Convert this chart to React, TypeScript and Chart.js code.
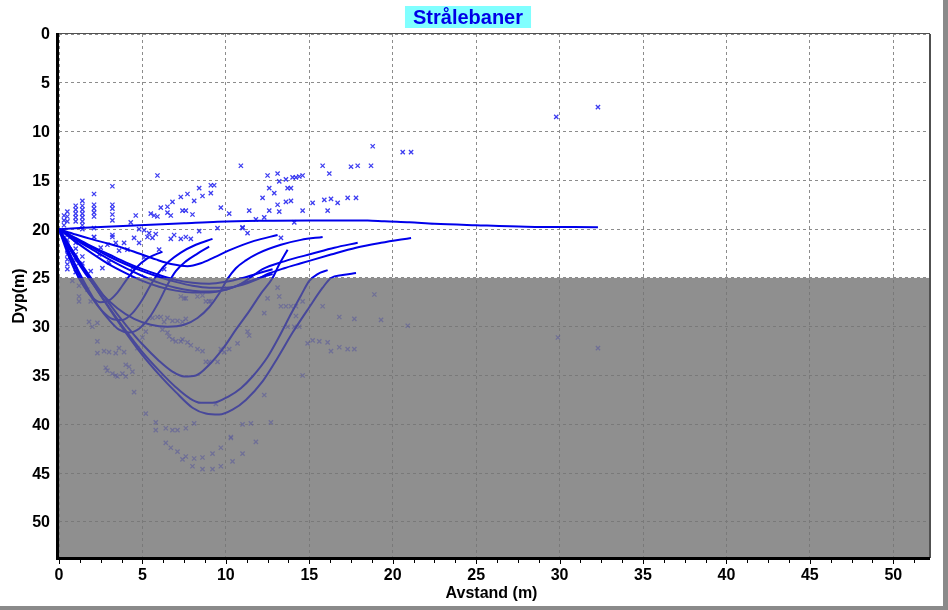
import React, { useEffect, useRef } from 'react';
import { Chart, registerables } from 'chart.js';
Chart.register(...registerables);

const chartTitle = 'Strålebaner';
const xAxisTitle = 'Avstand (m)';
const yAxisTitle = 'Dyp(m)';
const xRange = [0, 52.2];
const yRange = [0, 53.7];
const xTickValues = [0, 5, 10, 15, 20, 25, 30, 35, 40, 45, 50];
const yTickValues = [0, 5, 10, 15, 20, 25, 30, 35, 40, 45, 50];
const minorStep = 1.25;
const bottomLayerDepth = 25;

type P = [number, number];

const rayHorizontal: P[] = [[0,20],[1.5,19.85],[3.5,19.7],[5.5,19.55],[7.5,19.4],[9.5,19.25],[12,19.15],[15,19.1],[18.5,19.1],[19.5,19.2],[21,19.3],[22.5,19.45],[25,19.6],[28,19.75],[32.3,19.8]];
const rayA0: P[] = [[0,20],[0.5,22.4],[1,24.4],[1.5,25.9],[2,27.0],[2.5,27.5],[3,27.3],[3.5,26.5],[4,25.3],[4.6,24.0],[5.3,23.0],[6.2,22.3]];
const rayA1: P[] = [[0,20],[0.5,22.1],[1,24.0],[1.5,25.7],[2,27.1],[2.6,28.4],[3.2,29.2],[3.8,29.3],[4.4,28.6],[5.0,27.2],[5.5,25.7],[6.0,24.4],[6.6,23.3],[7.3,22.4],[8.2,21.6],[9.2,21.0]];
const rayA2: P[] = [[0,20],[0.6,22.3],[1.2,24.4],[1.8,26.3],[2.4,28.0],[3.0,29.3],[3.6,30.3],[4.2,30.6],[4.8,30.2],[5.4,29.1],[6.0,27.4],[6.5,25.7],[7.0,24.3],[7.6,23.3],[8.3,22.5],[9.0,21.8]];
const rayA3: P[] = [[0,20],[0.8,22.5],[1.6,24.6],[2.5,26.5],[3.5,28.1],[4.5,29.2],[5.5,29.8],[6.5,30.0],[7.5,29.8],[8.3,29.1],[9.0,28.0],[9.6,26.6],[10.1,25.1],[10.6,24.0],[11.2,23.2],[11.9,22.5],[13.3,21.6],[14.5,21.1],[15.8,20.8]];
const rayS3: P[] = [[0,20],[1,20.55],[2,21.05],[3,21.5],[3.8,21.9],[4.8,22.5],[5.8,23.1],[6.8,23.6],[7.7,23.8],[8.5,23.5],[9.3,22.9],[10.3,22.1],[11.7,21.2],[13.1,20.6]];
const rayB1: P[] = [[0,20],[1,21.0],[2,21.9],[3,22.8],[4,23.6],[5,24.3],[6,24.9],[7,25.4],[8,25.8],[9,26.0],[10,26.0],[11,25.7],[11.8,25.2],[12.5,24.6],[13.5,24.0],[14.5,23.5],[16.3,22.6],[17.8,21.9],[19.3,21.4],[21.1,20.9]];
const rayB2: P[] = [[0,20],[1,21.1],[2,22.1],[3,23.1],[4,24.0],[5,24.8],[6,25.5],[7,26.0],[8,26.3],[9,26.4],[10,26.2],[10.9,25.6],[11.6,24.8],[12.2,24.1],[13.5,23.3],[15.2,22.5],[16.5,21.9],[17.9,21.4]];
const rayB3: P[] = [[0,20],[1,21.3],[2,22.5],[3,23.6],[4,24.5],[5,25.3],[6,25.9],[7,26.3],[8,26.5],[9,26.5],[10,26.2],[11,25.6],[12,25.0],[12.8,24.6]];
const rayB4: P[] = [[0,20],[1,20.9],[2,21.8],[3,22.6],[4,23.4],[5,24.1],[6,24.7],[7,25.2],[8,25.5],[9,25.6],[10,25.4],[11,25.0],[12,24.5],[12.8,24.1]];
const rayD35: P[] = [[0,20],[1,22.7],[2,25.2],[3,27.6],[4,29.8],[5,31.8],[6,33.5],[6.8,34.6],[7.5,35.1],[8.2,35.0],[9.0,33.9],[9.8,32.3],[10.6,30.3],[11.4,28.4],[12.1,26.6],[12.8,25.0],[13.2,23.6],[13.7,22.1]];
const rayD38: P[] = [[0,20],[1,22.8],[2,25.5],[3,28.0],[4,30.4],[5,32.6],[6,34.5],[7,36.2],[7.8,37.3],[8.5,37.8],[9.2,37.8],[10.2,37.1],[10.9,36.3],[11.6,35.1],[12.5,33.1],[13.2,31.0],[13.9,28.7],[14.5,26.8],[15.0,25.3],[15.5,24.6],[16.1,24.2]];
const rayD39: P[] = [[0,20],[1,22.8],[2,25.5],[3,28.1],[4,30.6],[5,32.9],[6,34.9],[7,36.7],[8,38.3],[8.8,38.9],[9.6,39.0],[10.4,38.5],[11.2,37.5],[12.2,35.6],[13.1,33.2],[14.0,30.6],[15.0,28.0],[15.8,26.0],[16.3,25.0],[17.0,24.7],[17.8,24.5]];

const rays: P[][] = [rayHorizontal, rayA0, rayA1, rayA2, rayA3, rayS3, rayB1, rayB2, rayB3, rayB4, rayD35, rayD38, rayD39];

const pointsNearSource: P[] = [[0.3,18.6],[0.3,19.1],[0.3,19.6],[0.5,18.2],[0.5,18.7],[0.5,19.2],[0.5,20.6],[0.5,21.1],[0.5,21.6],[0.5,22.1],[0.5,22.6],[0.5,23.1],[0.5,23.6],[0.5,24.1],[1.0,17.6],[1.0,18.0],[1.0,18.4],[1.0,18.8],[1.0,19.2],[1.0,21.4],[1.0,22.0],[1.0,22.6],[1.0,23.2],[1.0,23.8],[1.0,24.4],[1.4,17.1],[1.4,17.6],[1.4,18.0],[1.4,18.4],[1.4,18.8],[1.4,19.2],[1.4,19.6],[1.4,20.0],[1.4,22.8],[1.4,23.5],[2.1,16.4],[2.1,17.5],[2.1,17.9],[2.1,18.3],[2.1,18.7],[2.1,19.9],[2.1,20.8],[3.2,15.6],[3.2,17.5],[3.2,17.9],[3.2,18.5],[3.2,19.1],[3.2,20.6]];
const pointsUpper: P[] = [[4.3,19.3],[4.6,18.6],[4.8,20.0],[5.5,18.4],[5.7,18.6],[5.9,14.5],[5.9,18.7],[6.1,17.8],[6.5,17.7],[6.5,18.3],[6.7,18.6],[6.8,17.2],[7.3,16.7],[7.4,18.1],[7.6,18.1],[7.7,16.4],[8.0,18.5],[8.1,17.1],[8.4,15.8],[8.6,16.6],[9.1,16.3],[9.1,15.5],[9.3,15.5],[9.7,17.8],[10.2,18.4],[10.9,13.5],[11.0,19.8],[11.4,18.1],[11.8,19.0],[12.2,16.8],[12.3,18.8],[12.5,14.5],[12.6,15.8],[12.6,18.1],[12.9,16.3],[13.1,14.3],[13.2,15.1],[13.1,17.5],[13.2,18.2],[13.6,14.9],[13.7,15.8],[13.9,15.8],[13.6,17.2],[13.9,17.1],[14.0,14.7],[14.2,14.7],[14.4,14.6],[14.6,14.5],[14.1,19.3],[14.6,18.1],[15.2,17.3],[15.8,13.5],[15.9,17.0],[16.2,14.3],[16.1,18.1],[16.3,16.9],[16.7,17.3],[17.3,16.8],[17.5,13.6],[17.8,16.8],[17.9,13.5],[18.7,13.5],[18.8,11.5],[20.6,12.1],[21.1,12.1],[29.8,8.5],[32.3,7.5]];
const pointsLowerWhite: P[] = [[2.1,20.8],[3.2,20.8],[2.5,21.9],[2.9,21.6],[3.4,21.4],[3.9,21.4],[4.1,22.1],[4.5,20.9],[4.8,21.4],[5.1,20.1],[5.4,20.4],[5.6,20.9],[5.8,20.5],[6.7,21.0],[6.9,20.6],[7.3,21.0],[7.6,20.8],[7.9,21.0],[8.4,20.2],[9.5,19.9],[11.0,19.9],[11.3,20.4],[13.3,20.9],[5.3,20.8],[3.0,23.4],[2.6,24.0],[1.9,24.3],[3.6,22.2],[4.4,24.0],[5.1,22.9],[6.0,22.1],[6.3,24.1],[2.4,22.6]];
const pointsGray: P[] = [[1.2,25.8],[0.8,25.3],[1.7,26.2],[1.2,26.9],[1.2,27.4],[1.9,27.4],[1.8,29.5],[2.3,29.6],[2.0,30.0],[2.3,31.5],[2.3,32.7],[2.7,32.5],[3.0,32.6],[3.4,32.7],[3.6,32.2],[3.9,32.6],[2.8,34.2],[2.9,34.5],[3.2,34.8],[3.4,35.0],[3.5,35.1],[3.8,34.8],[4.0,35.1],[4.0,33.9],[4.2,34.1],[4.4,34.6],[4.5,36.7],[4.7,32.2],[5.0,31.1],[5.2,30.5],[5.6,29.1],[5.9,29.0],[6.1,29.0],[6.3,29.5],[6.5,29.1],[6.8,29.4],[7.1,29.4],[7.4,29.5],[7.6,29.2],[6.2,30.3],[6.5,30.6],[6.6,31.0],[6.8,31.3],[7.0,31.5],[7.3,31.5],[7.4,31.3],[7.7,31.6],[7.9,31.9],[8.3,32.3],[8.6,32.5],[8.8,33.6],[9.0,33.6],[9.5,33.6],[9.7,32.3],[9.9,32.6],[10.2,32.3],[10.7,31.7],[7.3,26.9],[7.5,27.1],[7.6,27.1],[8.3,26.9],[8.6,26.8],[8.8,27.4],[9.0,27.4],[9.1,27.4],[11.3,30.5],[11.4,30.9],[12.3,28.6],[12.5,27.1],[13.1,26.0],[13.2,26.9],[13.3,27.9],[13.6,27.9],[13.9,27.9],[14.2,27.9],[14.2,28.9],[13.7,30.0],[14.1,30.0],[14.4,30.0],[14.6,27.4],[15.8,27.9],[14.9,31.7],[15.2,31.4],[15.6,31.5],[16.1,31.6],[16.3,32.5],[16.8,32.1],[17.3,32.3],[17.7,32.3],[16.8,29.0],[17.7,29.2],[19.3,29.3],[18.9,26.7],[14.6,35.0],[12.3,37.0],[20.9,29.9],[29.9,31.1],[32.3,32.2]];
const pointsDeep: P[] = [[5.2,38.9],[5.8,39.8],[5.8,40.6],[6.4,40.4],[6.8,40.6],[7.1,40.6],[7.6,40.4],[8.1,39.9],[9.4,37.9],[11.0,40.0],[11.5,39.9],[12.7,39.8],[10.3,41.3],[6.4,41.9],[6.7,42.4],[7.1,42.8],[7.4,43.6],[7.6,43.3],[8.0,44.3],[8.1,43.5],[8.6,43.4],[8.6,44.6],[9.2,43.0],[9.2,44.6],[9.7,44.3],[9.7,42.4],[10.4,43.8],[10.3,41.4],[11.0,43.0],[11.8,41.8]];

const FONT = "'Liberation Sans', Arial, Helvetica, sans-serif";

const decorPlugin = {
  id: 'decor',
  beforeDraw(chart: any) {
    const { ctx, chartArea, scales } = chart;
    const { left, right, bottom } = chartArea;
    const yb = scales.y.getPixelForValue(bottomLayerDepth);
    ctx.save();
    ctx.fillStyle = '#ffffff';
    ctx.fillRect(0, 0, chart.width, chart.height);
    ctx.fillStyle = '#cbcbcb';
    ctx.fillRect(left, yb, right - left, bottom - yb);
    ctx.restore();
  },
  afterDatasetsDraw(chart: any) {
    const { ctx, chartArea, scales } = chart;
    const { left, right, bottom } = chartArea;
    const yb = scales.y.getPixelForValue(bottomLayerDepth);
    ctx.save();
    ctx.fillStyle = 'rgba(111,111,111,0.65)';
    ctx.fillRect(left, yb, right - left, bottom - yb);
    ctx.restore();
  },
  afterDraw(chart: any) {
    const { ctx, chartArea, scales } = chart;
    const { left, right, top, bottom } = chartArea;
    const xs = scales.x;
    const ys = scales.y;
    ctx.save();
    ctx.fillStyle = '#505050';
    ctx.fillRect(left, top - 1, right - left, 1);
    ctx.fillRect(right - 1, top, 2, bottom - top);
    ctx.fillStyle = '#000000';
    ctx.fillRect(left - 3, top - 1, 3, bottom - top + 3);
    ctx.fillRect(left - 3, bottom - 1, right - left + 3, 3);
    for (let v = xRange[0]; v <= xRange[1] + 1e-9; v += minorStep) {
      const px = Math.round(xs.getPixelForValue(v));
      const major = xTickValues.some((t) => Math.abs(t - v) < 1e-6);
      ctx.fillRect(px, bottom + 2, 1, major ? 4 : 3);
    }
    ctx.font = `bold 16px ${FONT}`;
    ctx.fillStyle = '#000000';
    ctx.textAlign = 'center';
    ctx.textBaseline = 'middle';
    xTickValues.forEach((v) => {
      ctx.fillText(String(v), xs.getPixelForValue(v), bottom + 18);
    });
    ctx.textAlign = 'right';
    yTickValues.forEach((v) => {
      ctx.fillText(String(v), left - 9, ys.getPixelForValue(v) + 1);
    });
    ctx.textAlign = 'center';
    ctx.fillText(xAxisTitle, (left + right) / 2 - 3, bottom + 36);
    ctx.save();
    ctx.translate(20, (top + bottom) / 2);
    ctx.rotate(-Math.PI / 2);
    ctx.fillText(yAxisTitle, 0, 0);
    ctx.restore();
    ctx.font = `bold 20px ${FONT}`;
    const tw = ctx.measureText(chartTitle).width;
    const cx = 468;
    ctx.fillStyle = '#80ffff';
    ctx.fillRect(cx - tw / 2 - 8, 6, tw + 16, 22);
    ctx.fillStyle = '#0000e6';
    ctx.fillText(chartTitle, cx, 18);
    ctx.fillStyle = '#8a8a8a';
    ctx.fillRect(943, 0, 5, chart.height);
    ctx.fillRect(0, 606, chart.width, 4);
    ctx.restore();
  },
};

export default function App() {
  const ref = useRef<HTMLCanvasElement>(null);
  useEffect(() => {
    document.body.style.margin = '0';
    const toXY = (arr: P[]) => arr.map(([x, y]) => ({ x, y }));
    const rayColor = 'rgb(0,0,235)';
    const pointSets: [P[], string][] = [
      [pointsNearSource, 'rgba(40,40,240,0.9)'],
      [pointsUpper, 'rgba(40,40,240,0.9)'],
      [pointsLowerWhite, 'rgba(40,40,240,0.9)'],
      [pointsGray, 'rgba(40,40,240,0.55)'],
      [pointsDeep, 'rgba(40,40,240,0.55)'],
    ];
    const datasets: any[] = [
      ...rays.map((r) => ({
        data: toXY(r),
        showLine: true,
        pointRadius: 0,
        borderColor: rayColor,
        borderWidth: 2,
        cubicInterpolationMode: 'monotone',
        fill: false,
      })),
      ...pointSets.map(([pts, col]) => ({
        data: toXY(pts),
        showLine: false,
        pointStyle: 'crossRot',
        pointRadius: 3,
        borderWidth: 1.3,
        borderColor: col,
        backgroundColor: 'rgba(0,0,0,0)',
      })),
    ];
    const chart = new Chart(ref.current as HTMLCanvasElement, {
      type: 'scatter',
      data: { datasets },
      options: {
        animation: false,
        responsive: false,
        devicePixelRatio: 1,
        layout: { padding: { top: 34, right: 18, left: 0, bottom: 0 } },
        plugins: { legend: { display: false }, tooltip: { enabled: false }, title: { display: false } },
        scales: {
          x: {
            type: 'linear',
            min: xRange[0],
            max: xRange[1],
            ticks: { display: false },
            afterBuildTicks: (s: any) => { s.ticks = xTickValues.map((value) => ({ value })); },
            afterFit: (s: any) => { s.height = 52; },
            grid: { color: '#8c8c8c', lineWidth: 1, drawTicks: false },
            border: { display: false, dash: [3, 3] },
          },
          y: {
            type: 'linear',
            reverse: true,
            min: yRange[0],
            max: yRange[1],
            ticks: { display: false },
            afterBuildTicks: (s: any) => { s.ticks = yTickValues.map((value) => ({ value })); },
            afterFit: (s: any) => { s.width = 59; },
            grid: { color: '#8c8c8c', lineWidth: 1, drawTicks: false },
            border: { display: false, dash: [3, 3] },
          },
        },
      } as any,
      plugins: [decorPlugin],
    });
    return () => chart.destroy();
  }, []);
  return (
    <div style={{ width: 948, height: 610 }}>
      <canvas ref={ref} width={948} height={610} style={{ display: 'block' }} />
    </div>
  );
}
